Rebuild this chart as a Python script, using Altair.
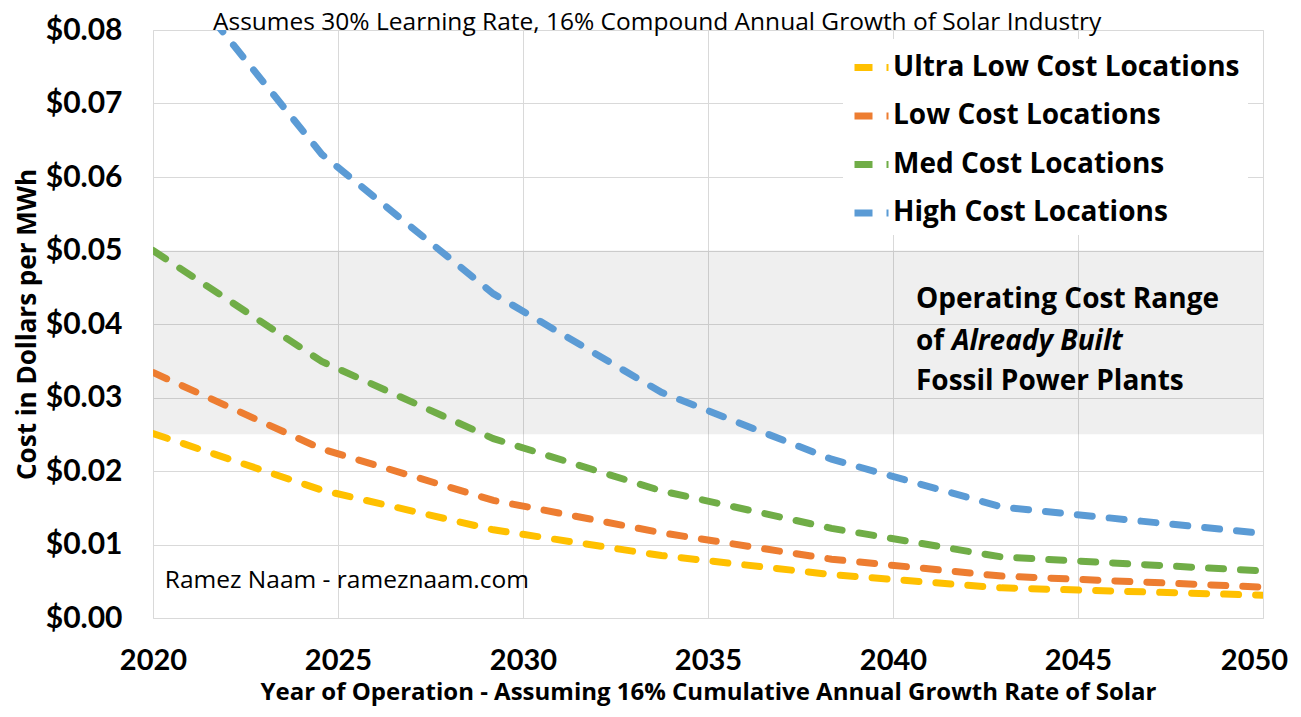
import altair as alt
import pandas as pd

# ---------------- data ----------------
years = [2020, 2024.56, 2029.2, 2033.74, 2038.34, 2042.94, 2050]
ultra_low = [0.0251, 0.0174, 0.0120, 0.0085, 0.0059, 0.0041, 0.0031]
low = [0.0334, 0.0230, 0.0160, 0.0116, 0.0080, 0.0057, 0.0042]
med = [0.0500, 0.0349, 0.0244, 0.0173, 0.0122, 0.0083, 0.0064]
high = [0.0915, 0.0631, 0.0441, 0.0307, 0.0216, 0.0151, 0.0115]

series_names = ["Ultra Low Cost Locations", "Low Cost Locations",
                "Med Cost Locations", "High Cost Locations"]
series_values = [ultra_low, low, med, high]
colors = ["#FFC000", "#ED7D31", "#70AD47", "#5B9BD5"]

x_ticks = [2020, 2025, 2030, 2035, 2040, 2045, 2050]
y_ticks = [0.00, 0.01, 0.02, 0.03, 0.04, 0.05, 0.06, 0.07, 0.08]

band_low = [0.025]
band_high = [0.05]
band_x = [2020]
band_x2 = [2050]

ann_lines = ["Operating Cost Range", "of", "Fossil Power Plants"]
ann_year = [2040.62, 2040.62, 2040.62]
ann_value = [0.0432, 0.0376, 0.0321]
ann_italic = ["Already Built"]
ann_italic_year = [2040.62]
ann_italic_value = [0.0376]

credit_text = ["Ramez Naam - rameznaam.com"]
credit_year = [2020.32]
credit_value = [0.0050]

title_text = "Assumes 30% Learning Rate, 16% Compound Annual Growth of Solar Industry"
x_title = "Year of Operation - Assuming 16% Cumulative Annual Growth Rate of Solar"
y_title = "Cost in Dollars per MWh"

TICK_FONT = "Lato"
FONT = "Open Sans"

# ---------------- tables ----------------
rows = []
for name, vals in zip(series_names, series_values):
    for i, (yr, v) in enumerate(zip(years, vals)):
        rows.append({"series": name, "year": yr, "cost": v, "order": i})
lines_df = pd.DataFrame(rows)

band_df = pd.DataFrame({"x": band_x, "x2": band_x2, "y": band_low, "y2": band_high})
ann_df = pd.DataFrame({"text": ann_lines, "year": ann_year, "cost": ann_value})
ital_df = pd.DataFrame({"text": ann_italic, "year": ann_italic_year, "cost": ann_italic_value})
credit_df = pd.DataFrame({"text": credit_text, "year": credit_year, "cost": credit_value})

x_scale = alt.Scale(domain=[2020, 2050], nice=False, zero=False)
y_scale = alt.Scale(domain=[0, 0.08], nice=False, zero=True)

x_axis = alt.Axis(values=x_ticks, format="d", title=x_title,
                  labelFont=TICK_FONT, labelFontSize=29, labelFontWeight="bold", labelColor="#000000",
                  labelOffset={"condition": {"test": "datum.value == 2050", "value": -9}, "value": 0},
                  titleFont=FONT, titleFontSize=24, titleFontWeight="bold", titleColor="#000000",
                  labelPadding=28, titlePadding=5,
                  grid=True, gridColor="#D9D9D9", gridWidth=1,
                  domain=False, ticks=False, tickSize=0, labelFlush=False)
y_axis = alt.Axis(values=y_ticks, format="$.2f", title=y_title,
                  labelFont=TICK_FONT, labelFontSize=30, labelFontWeight="bold", labelColor="#000000",
                  titleFont=FONT, titleFontSize=26, titleFontWeight="bold", titleColor="#000000",
                  labelPadding=31, titlePadding=5,
                  grid=True, gridColor="#D9D9D9", gridWidth=1,
                  domain=False, ticks=False, tickSize=0, labelFlush=False)

band = alt.Chart(band_df).mark_rect(color="#000000", opacity=0.063).encode(
    x=alt.X("x:Q", scale=x_scale, axis=x_axis),
    x2="x2:Q",
    y=alt.Y("y:Q", scale=y_scale, axis=y_axis),
    y2="y2:Q",
)

lines = alt.Chart(lines_df).mark_line(
    strokeWidth=7, strokeDash=[15, 17], strokeCap="round", clip=True
).encode(
    x=alt.X("year:Q", scale=x_scale),
    y=alt.Y("cost:Q", scale=y_scale),
    color=alt.Color(
        "series:N",
        scale=alt.Scale(domain=series_names, range=colors),
        sort=series_names,
        legend=alt.Legend(
            title=None, orient="none", legendX=690, legendY=9,
            labelFont=FONT, labelFontSize=28, labelFontWeight="bold", labelColor="#000000",
            labelLimit=500, labelOffset=1,
            symbolType="stroke", symbolSize=1156, symbolStrokeWidth=7,
            symbolDash=[18, 14], symbolOpacity=1,
            rowPadding=13.5, padding=8, fillColor="#FFFFFF",
        ),
    ),
    order="order:Q",
)

ann = alt.Chart(ann_df).mark_text(
    align="left", baseline="middle", font=FONT, fontSize=28, fontWeight="bold", color="#000000"
).encode(x=alt.X("year:Q", scale=x_scale), y=alt.Y("cost:Q", scale=y_scale), text="text:N")

ital = alt.Chart(ital_df).mark_text(
    align="left", baseline="middle", font=FONT, fontSize=28, fontWeight="bold",
    fontStyle="italic", color="#000000", dx=36
).encode(x=alt.X("year:Q", scale=x_scale), y=alt.Y("cost:Q", scale=y_scale), text="text:N")

credit = alt.Chart(credit_df).mark_text(
    align="left", baseline="middle", font=FONT, fontSize=24.5, color="#000000"
).encode(x=alt.X("year:Q", scale=x_scale), y=alt.Y("cost:Q", scale=y_scale), text="text:N")

chart = alt.layer(band, lines, ann, ital, credit).properties(
    width=1110, height=588,
    title=alt.Title(title_text, anchor="start", frame="group", dx=60, offset=-20, font=FONT,
                    fontSize=24.5, fontWeight="normal", color="#000000"),
    autosize=alt.AutoSizeParams(type="none"),
    padding={"left": 145, "top": 22, "right": 28, "bottom": 90},
).configure_view(stroke=None).configure(background="#FFFFFF")

chart.save("out.html", embed_options={"renderer": "svg", "actions": False})
